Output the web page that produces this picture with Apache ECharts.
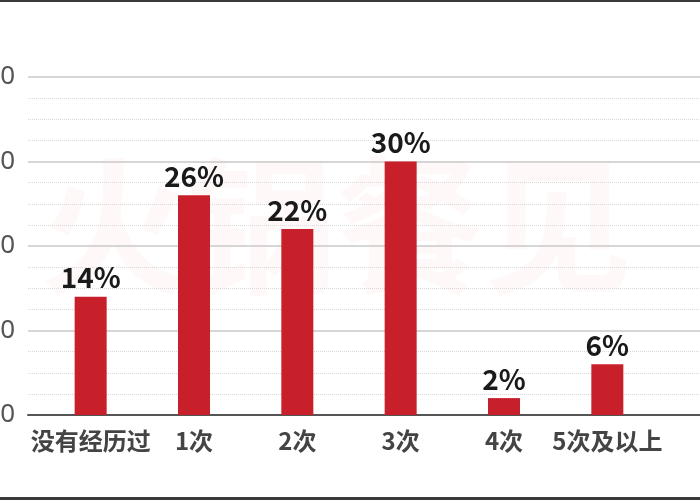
<!DOCTYPE html>
<html><head><meta charset="utf-8">
<script src="https://cdn.jsdelivr.net/npm/echarts@6/dist/echarts.min.js"></script>
<style>html,body{margin:0;padding:0;background:#fff}#c{width:700px;height:500px}</style>
</head><body><div id="c"></div>
<script>
const categories = ['没有经历过', '1次', '2次', '3次', '4次', '5次及以上'];
const values = [14, 26, 22, 30, 2, 6];
const yTicks = { min: 0, max: 40, interval: 10 };
const watermark = '火锅餐见';

const chart = echarts.init(document.getElementById('c'));
chart.setOption({
  backgroundColor: '#ffffff',
  animation: false,
  graphic: [
    { type: 'text', left: 40, top: 152, z: -10, silent: true,
      style: { text: watermark, fontSize: 148, fontWeight: 'bold', fontFamily: 'Noto Sans CJK SC',
        fill: 'rgba(215,60,60,0.035)', letterSpacing: 20 } },
    { type: 'rect', left: 0, top: 0, shape: { width: 700, height: 2 }, style: { fill: '#3a3a3a' } },
    { type: 'rect', left: 0, top: 497, shape: { width: 700, height: 3 }, style: { fill: '#3a3a3a' } }
  ],
  grid: [
    { left: 28, right: 0, top: 77, bottom: 85, containLabel: false, outerBoundsMode: 'none' },
    { left: 39, right: 41, top: 77, bottom: 85, containLabel: false, outerBoundsMode: 'none' }
  ],
  xAxis: [
    { gridIndex: 0, type: 'category', data: categories, axisTick: { show: false }, axisLabel: { show: false },
      axisLine: { show: true, lineStyle: { color: '#555', width: 2 } } },
    { gridIndex: 1, type: 'category', data: categories, axisTick: { show: false },
      axisLine: { show: false },
      axisLabel: { interval: 0, margin: 14, fontSize: 24, fontWeight: 'bold', color: '#444', fontFamily: 'Noto Sans CJK SC' } }
  ],
  yAxis: [
    { gridIndex: 0, type: 'value', min: yTicks.min, max: yTicks.max, interval: yTicks.interval,
      axisLine: { show: false }, axisTick: { show: false },
      axisLabel: { margin: 13, fontSize: 26, color: '#555', fontFamily: 'Noto Sans' },
      splitLine: { show: true, lineStyle: { color: '#c8c8c8', width: 1.5 } },
      minorTick: { show: false, splitNumber: 4 },
      minorSplitLine: { show: true, lineStyle: { color: '#d8d8d8', type: 'dotted', width: 1 } } },
    { gridIndex: 1, type: 'value', min: yTicks.min, max: yTicks.max, interval: yTicks.interval, show: false,
      splitLine: { show: false } }
  ],
  series: [{
    type: 'bar', xAxisIndex: 1, yAxisIndex: 1, data: values, barWidth: 32,
    itemStyle: { color: '#c8202b' },
    label: { show: true, position: 'top', distance: 5, formatter: '{c}%', fontSize: 28, fontWeight: 'bold',
      color: '#1a1a1a', fontFamily: 'Noto Sans CJK SC' }
  }]
});
</script></body></html>
